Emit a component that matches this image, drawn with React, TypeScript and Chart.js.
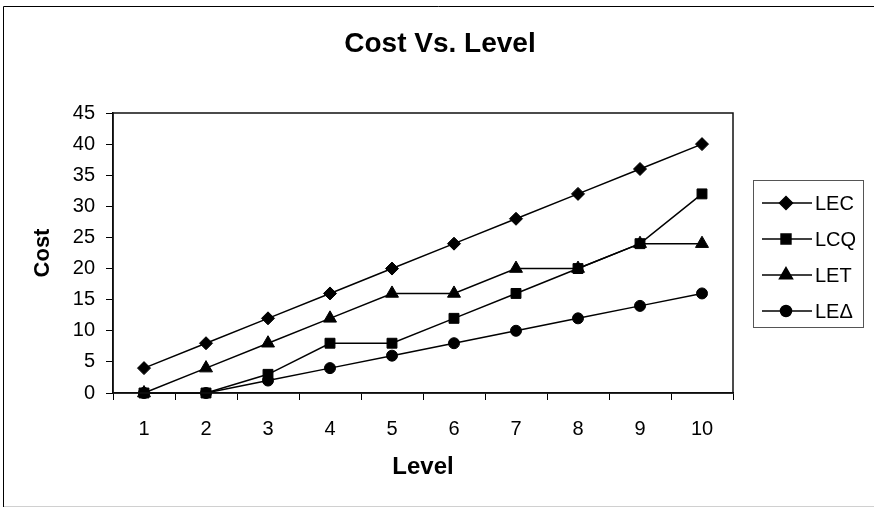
import React, { useEffect, useRef } from 'react';
import { Chart, registerables } from 'chart.js';
import { drawPoint } from 'chart.js/helpers';

Chart.register(...registerables);

const chartTitle = 'Cost Vs. Level';
const xTitle = 'Level';
const yTitle = 'Cost';
const levels = ['1', '2', '3', '4', '5', '6', '7', '8', '9', '10'];
const seriesNames = ['LEC', 'LCQ', 'LET', 'LE\u0394'];
const lecValues = [4, 8, 12, 16, 20, 24, 28, 32, 36, 40];
const lcqValues = [0, 0, 3, 8, 8, 12, 16, 20, 24, 32];
const letValues = [0, 4, 8, 12, 16, 16, 20, 20, 24, 24];
const ledValues = [0, 0, 2, 4, 6, 8, 10, 12, 14, 16];
const yMin = 0;
const yMax = 45;
const yStep = 5;

const FONT = '"Liberation Sans", Arial, sans-serif';
const pointStyles = ['rectRot', 'rect', 'triangle', 'circle'];
const pointRadii = [6.5, 7, 7.5, 5.5];

const framePlugin = {
  id: 'frameAndLegend',
  afterDraw(chart: any) {
    const ctx: CanvasRenderingContext2D = chart.ctx;
    const a = chart.chartArea;
    ctx.save();
    // plot box
    ctx.strokeStyle = '#111';
    ctx.lineWidth = 1.5;
    ctx.strokeRect(a.left, a.top, a.right - a.left, a.bottom - a.top);
    // outer frame
    ctx.lineWidth = 1;
    ctx.strokeStyle = '#000';
    ctx.beginPath();
    ctx.moveTo(3.5, 507);
    ctx.lineTo(3.5, 6.5);
    ctx.lineTo(874, 6.5);
    ctx.stroke();
    ctx.strokeStyle = '#d0d0d0';
    ctx.beginPath();
    ctx.moveTo(4, 506.5);
    ctx.lineTo(874, 506.5);
    ctx.stroke();
    // title
    ctx.fillStyle = '#000';
    ctx.font = `bold 28px ${FONT}`;
    ctx.textAlign = 'center';
    ctx.textBaseline = 'middle';
    ctx.fillText(chartTitle, 440, 44);
    // legend
    const boxX = 753.5, boxY = 180.5, boxW = 110, boxH = 147;
    ctx.strokeStyle = '#555';
    ctx.lineWidth = 1;
    ctx.strokeRect(boxX, boxY, boxW, boxH);
    const rowY = [203, 239, 275, 311];
    ctx.font = `20px ${FONT}`;
    ctx.textAlign = 'left';
    chart.data.datasets.forEach((ds: any, i: number) => {
      const y = rowY[i];
      ctx.strokeStyle = '#000';
      ctx.lineWidth = 1.5;
      ctx.beginPath();
      ctx.moveTo(762, y);
      ctx.lineTo(812, y);
      ctx.stroke();
      ctx.fillStyle = '#000';
      drawPoint(ctx, { pointStyle: ds.pointStyle, radius: ds.pointRadius, rotation: 0, borderWidth: 1 } as any, 786, y);
      ctx.fillStyle = '#000';
      ctx.fillText(ds.label, 815, y + 1);
    });
    ctx.restore();
  },
};

export default function App() {
  const ref = useRef<HTMLCanvasElement>(null);
  useEffect(() => {
    const canvas = ref.current!;
    const seriesValues = [lecValues, lcqValues, letValues, ledValues];
    const chart = new Chart(canvas, {
      type: 'line',
      data: {
        labels: levels,
        datasets: seriesValues.map((vals, i) => ({
          label: seriesNames[i],
          data: vals,
          borderColor: '#000',
          borderWidth: 1.5,
          backgroundColor: '#000',
          pointBackgroundColor: '#000',
          pointBorderColor: '#000',
          pointBorderWidth: 1,
          pointStyle: pointStyles[i] as any,
          pointRadius: pointRadii[i],
          tension: 0,
          fill: false,
          clip: false as any,
        })),
      },
      options: {
        responsive: false,
        animation: false,
        devicePixelRatio: 1,
        layout: { padding: { top: 113, right: 141, left: 0, bottom: 0 } },
        plugins: {
          legend: { display: false },
          title: { display: false },
          tooltip: { enabled: false },
        },
        scales: {
          x: {
            offset: true,
            grid: { offset: true, drawOnChartArea: false, tickLength: 7, color: '#000', lineWidth: 1 },
            border: { color: '#000', width: 1.5 },
            ticks: { color: '#000', font: { family: FONT, size: 20 }, padding: 17, maxRotation: 0, autoSkip: false },
            title: {
              display: true,
              text: xTitle,
              color: '#000',
              font: { family: FONT, size: 24, weight: 'bold' },
              padding: { top: 0, bottom: 25 },
            },
            afterFit: (s: any) => { s.height = 114; },
          },
          y: {
            min: yMin,
            max: yMax,
            grid: { drawOnChartArea: false, tickLength: 7, color: '#000', lineWidth: 1 },
            border: { color: '#000', width: 1.5 },
            ticks: { stepSize: yStep, color: '#000', font: { family: FONT, size: 20 }, padding: 11 },
            title: {
              display: true,
              text: yTitle,
              color: '#000',
              font: { family: FONT, size: 22, weight: 'bold' },
              padding: { top: 30, bottom: 0 },
            },
            afterFit: (s: any) => { s.width = 113; },
          },
        },
      } as any,
      plugins: [framePlugin],
    });
    return () => chart.destroy();
  }, []);
  return (
    <div style={{ position: 'absolute', left: 0, top: 0, width: 874, height: 507, background: '#fff' }}>
      <canvas ref={ref} width={874} height={507} style={{ display: 'block' }} />
    </div>
  );
}
